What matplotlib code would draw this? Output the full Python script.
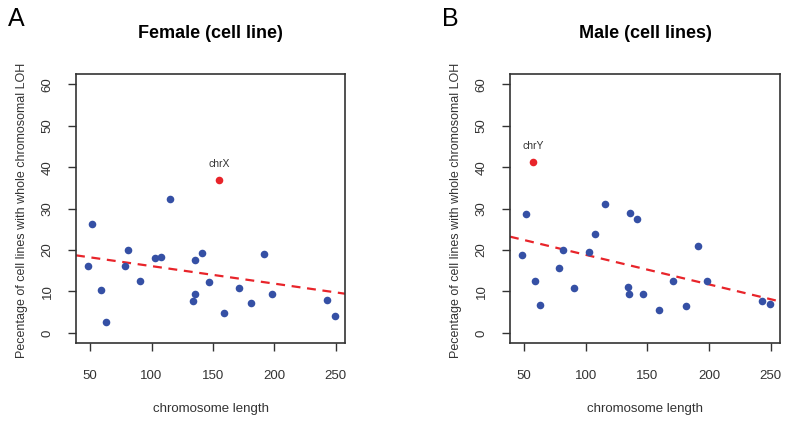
import numpy as np
import matplotlib.pyplot as plt

plt.rcParams['font.family'] = ['Liberation Sans', 'DejaVu Sans']

# chromosome lengths (Mb) for chr1..chr22
chrom_len = [249.3, 243.2, 198.0, 191.2, 180.9, 171.1, 159.1, 146.4, 141.2, 135.5, 135.0,
             133.9, 115.2, 107.3, 102.5, 90.4, 81.2, 78.1, 59.1, 63.0, 48.1, 51.3]

female_loh = [4.0, 7.9, 9.4, 19.1, 7.2, 10.8, 4.7, 12.3, 19.4, 17.7, 9.4,
              7.6, 32.4, 18.4, 18.0, 12.6, 20.1, 16.2, 10.4, 2.6, 16.2, 26.3]
male_loh = [7.0, 7.6, 12.5, 21.0, 6.4, 12.5, 5.5, 9.3, 27.5, 28.9, 9.3,
            11.1, 31.2, 23.9, 19.6, 10.8, 20.1, 15.7, 12.5, 6.7, 18.7, 28.7]

sex_chr = ['chrX', 'chrY']
sex_len = [155.3, 57.5]
sex_loh = [37.0, 41.3]

titles = ['Female (cell line)', 'Male (cell lines)']
panel_tags = ['A', 'B']

fig = plt.figure(figsize=(7.97, 4.21), dpi=100)
axes_pos = [[0.0954, 0.1846, 0.3375, 0.6397], [0.6399, 0.1846, 0.3388, 0.6397]]
ylab_x = [0.027, 0.572]
tag_x = [0.01, 0.555]

grey = '#333333'
for i, loh in enumerate([female_loh, male_loh]):
    ax = fig.add_axes(axes_pos[i])
    x = np.array(chrom_len)
    y = np.array(loh)
    ax.scatter(x, y, s=30, color='#3550a5', zorder=3, linewidths=0)
    ax.scatter(sex_len[i], sex_loh[i], s=30, color='#e8242a', zorder=3, linewidths=0)
    ax.annotate(sex_chr[i], (sex_len[i], sex_loh[i]), xytext=(0, 8), textcoords='offset points',
                ha='center', va='bottom', fontsize=7.5, color=grey)

    # linear fit on all chromosomes, sex chromosome included
    xa = np.append(x, sex_len[i])
    ya = np.append(y, sex_loh[i])
    slope, icpt = np.polyfit(xa, ya, 1)
    xl = np.array([38.5, 257.5])
    ax.plot(xl, icpt + slope * xl, color='#e8242a', lw=1.6, ls=(0, (4, 3)), zorder=2)

    ax.set_xlim(38.5, 257.5)
    ax.set_ylim(-2.5, 62.5)
    ax.set_xticks([50, 100, 150, 200, 250])
    ax.set_yticks([0, 10, 20, 30, 40, 50, 60])
    ax.set_yticklabels(['0', '10', '20', '30', '40', '50', '60'], rotation=90, va='center')
    ax.tick_params(direction='out', length=6, width=1, colors=grey, labelsize=9.5, pad=10)
    ax.tick_params(axis='x', pad=13)
    for sp in ax.spines.values():
        sp.set_color(grey)
        sp.set_linewidth(1.2)
    ax.set_xlabel('chromosome length', fontsize=9.5, color=grey, labelpad=15)
    ax.set_title(titles[i], fontsize=13, fontweight='bold', pad=26)
    fig.text(ylab_x[i], 0.5, 'Pecentage of cell lines with whole chromosomal LOH',
             rotation=90, ha='center', va='center', fontsize=9, color=grey)
    fig.text(tag_x[i], 0.955, panel_tags[i], fontsize=18, ha='left', va='center')

fig.savefig('out.png', dpi=100)
